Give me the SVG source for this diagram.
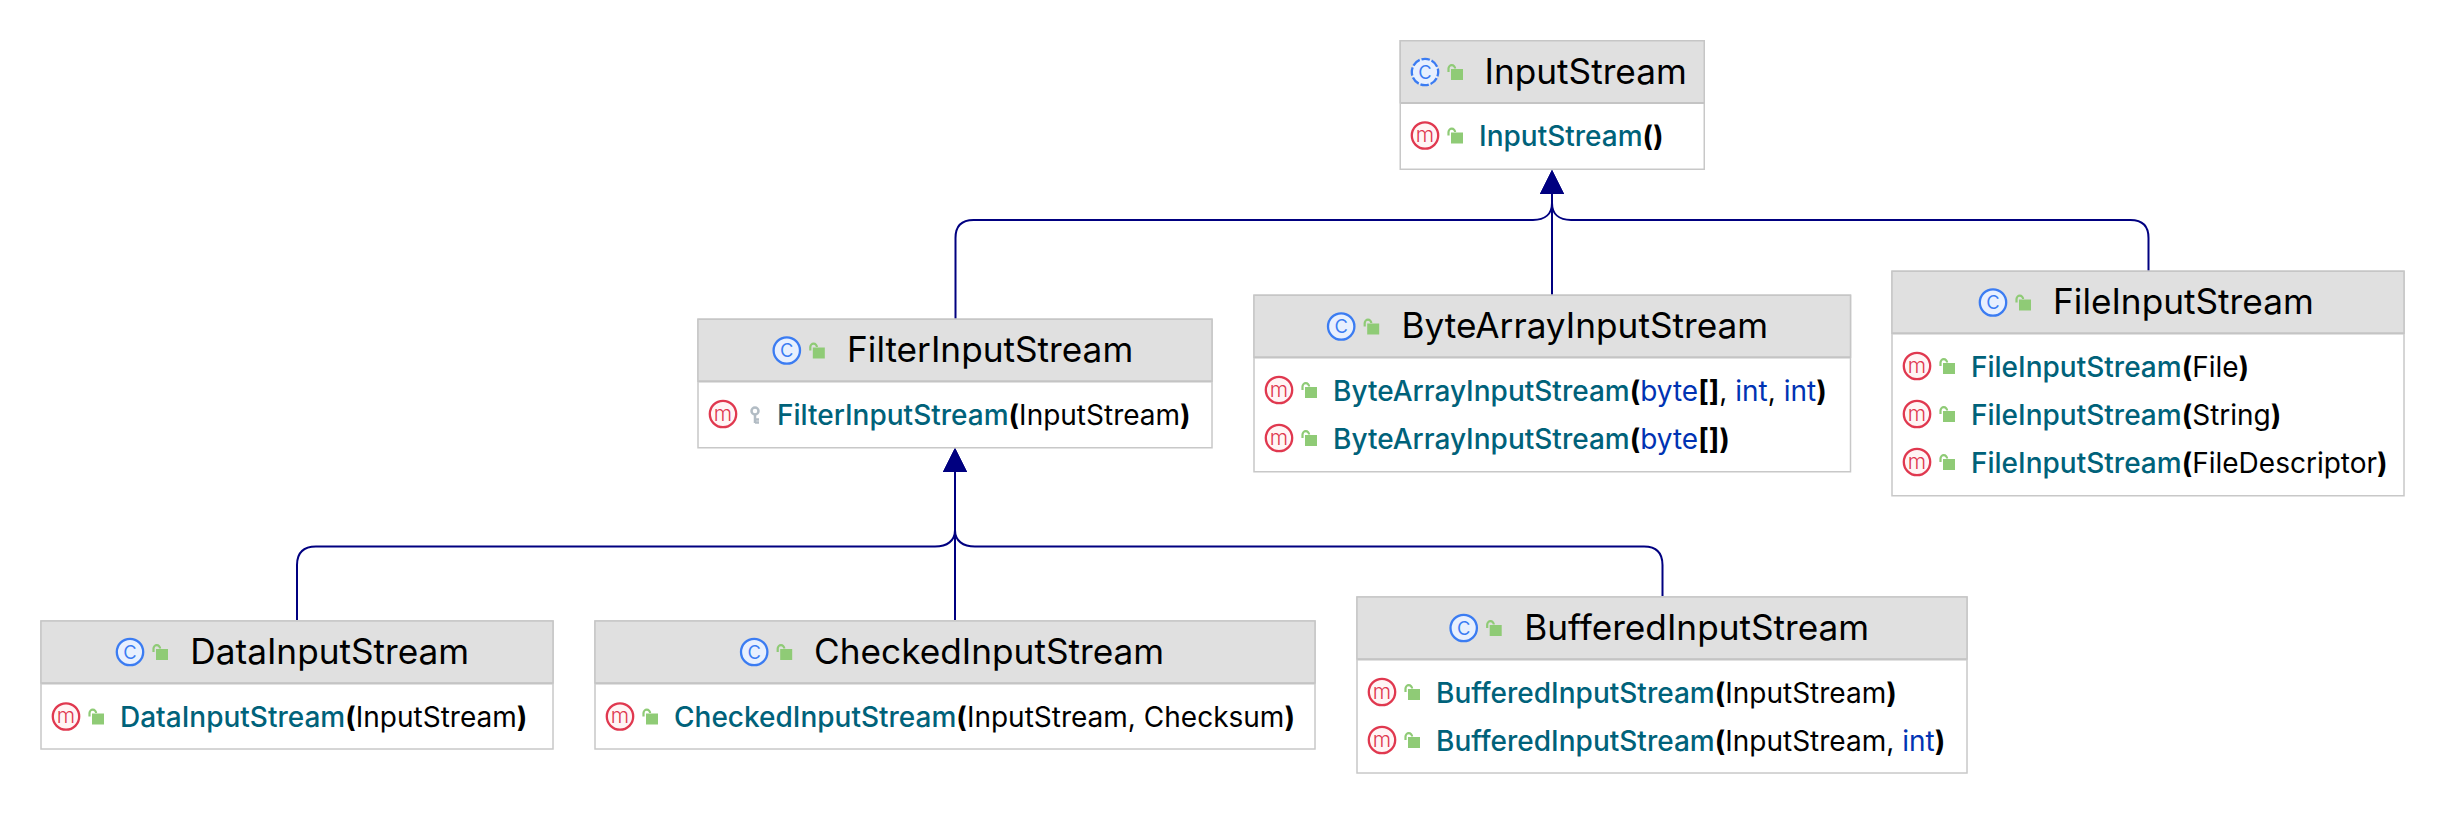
<svg xmlns="http://www.w3.org/2000/svg" width="2446" height="814" viewBox="0 0 2446 814">
<style>
text{font-family:Inter,"Noto Sans","Liberation Sans",sans-serif;white-space:pre}
.box{fill:#fff;stroke:#c8c8c8;stroke-width:1.500}
.head{fill:#e0e0e0;stroke:#c6c6c6;stroke-width:1.500}
.sep{stroke:#c4c4c4;stroke-width:2}
.t{font-size:35.200px;fill:#000}
.r{font-size:28px;font-weight:400;fill:#000}
.n{fill:#00627a;font-weight:450}.k{fill:#0033b3}.b{font-weight:700}
.ln{fill:none;stroke:#000080;stroke-width:2}
.ci{font-size:25px;font-weight:300;fill:#3b7cf2}
.mi{font-size:21px;font-weight:300;fill:#e0384f}
</style>
<defs>
<marker id="tri" markerUnits="userSpaceOnUse" markerWidth="26" markerHeight="26" refX="0" refY="12" orient="auto"><path d="M0 0L24 12L0 24Z" fill="#000080"/></marker>
<g id="lock"><rect x="26" y="-3" width="12" height="11" fill="#8fcb76"/><path d="M23.500 0V-3.500a3.300 3.300 0 0 1 6.600 0" fill="none" stroke="#8fcb76" stroke-width="2.200"/></g>
<g id="key"><circle cx="32" cy="-3" r="3.500" fill="none" stroke="#b2bcc4" stroke-width="2.500"/><path d="M32 0V9M32 5.500h4M32 8.500h4" fill="none" stroke="#b2bcc4" stroke-width="2.500"/></g>
<g id="c"><circle r="13.200" fill="#e8f0fe" stroke="#3b7cf2" stroke-width="2.300"/><text y="6.800" text-anchor="middle" class="ci">c</text></g>
<g id="ca"><circle r="13.200" fill="#e8f0fe" stroke="#3b7cf2" stroke-width="2.300" stroke-dasharray="8.500 1.870" stroke-dashoffset="4"/><text y="6.800" text-anchor="middle" class="ci">c</text></g>
<g id="m"><circle r="13.200" fill="#fff5f5" stroke="#e0384f" stroke-width="2.300"/><text y="6.500" text-anchor="middle" class="mi">m</text></g>
</defs>
<rect width="2446" height="814" fill="#fff"/>
<g id="connectors">
<path class="ln" marker-end="url(#tri)" d="M955.500 319V238Q955.500 220 973.500 220H1533C1545 220 1552 214 1552 203V194"/>
<path class="ln" marker-end="url(#tri)" d="M1552 295V194"/>
<path class="ln" marker-end="url(#tri)" d="M2148.500 271V238Q2148.500 220 2130.500 220H1571C1559 220 1552 214 1552 203V194"/>
<path class="ln" marker-end="url(#tri)" d="M297 620V565Q297 546.500 316 546.500H935C947 546.500 955 541 955 530V472"/>
<path class="ln" marker-end="url(#tri)" d="M955 620V472"/>
<path class="ln" marker-end="url(#tri)" d="M1662.500 596V565Q1662.500 546.500 1644 546.500H975C963 546.500 955 541 955 530V472"/>
</g>
<g id="InputStream">
<rect class="box" x="1400.250" y="40.750" width="304" height="128.500"/><rect class="head" x="1400.250" y="40.750" width="304" height="62"/><path class="sep" d="M1401 103H1704"/>
<use href="#ca" x="1425" y="72"/><use href="#lock" x="1425" y="72"/><text class="t" x="1484.500" y="83.500">InputStream</text>
<use href="#m" x="1425" y="135.500"/><use href="#lock" x="1425" y="135.500"/><text class="r" x="1479" y="146"><tspan class="n">InputStream</tspan><tspan class="b">()</tspan></text>
</g>
<g id="FilterInputStream">
<rect class="box" x="698" y="319.250" width="514" height="128.500"/><rect class="head" x="698" y="319.250" width="514" height="62"/><path class="sep" d="M698.500 381.500H1211.500"/>
<use href="#c" x="786.800" y="350.500"/><use href="#lock" x="786.800" y="350.500"/><text class="t" x="847.100" y="362">FilterInputStream</text>
<use href="#m" x="723" y="414"/><use href="#key" x="723" y="414"/><text class="r" x="777" y="424.500"><tspan class="n">FilterInputStream</tspan><tspan class="b">(</tspan>InputStream<tspan class="b">)</tspan></text>
</g>
<g id="ByteArrayInputStream">
<rect class="box" x="1254" y="295.250" width="596.500" height="176.500"/><rect class="head" x="1254" y="295.250" width="596.500" height="62"/><path class="sep" d="M1254.500 357.500H1850"/>
<use href="#c" x="1341.200" y="326.500"/><use href="#lock" x="1341.200" y="326.500"/><text class="t" x="1401.500" y="338">ByteArrayInputStream</text>
<use href="#m" x="1279" y="390"/><use href="#lock" x="1279" y="390"/><text class="r" x="1333" y="400.500"><tspan class="n">ByteArrayInputStream</tspan><tspan class="b">(</tspan><tspan class="k">byte</tspan><tspan class="b">[]</tspan>, <tspan class="k">int</tspan>, <tspan class="k">int</tspan><tspan class="b">)</tspan></text>
<use href="#m" x="1279" y="438"/><use href="#lock" x="1279" y="438"/><text class="r" x="1333" y="448.500"><tspan class="n">ByteArrayInputStream</tspan><tspan class="b">(</tspan><tspan class="k">byte</tspan><tspan class="b">[])</tspan></text>
</g>
<g id="FileInputStream">
<rect class="box" x="1892" y="271.250" width="512" height="224.500"/><rect class="head" x="1892" y="271.250" width="512" height="62"/><path class="sep" d="M1892.500 333.500H2403.500"/>
<use href="#c" x="1993" y="302.500"/><use href="#lock" x="1993" y="302.500"/><text class="t" x="2053.100" y="314">FileInputStream</text>
<use href="#m" x="1917" y="366"/><use href="#lock" x="1917" y="366"/><text class="r" x="1971" y="376.500"><tspan class="n">FileInputStream</tspan><tspan class="b">(</tspan>File<tspan class="b">)</tspan></text>
<use href="#m" x="1917" y="414"/><use href="#lock" x="1917" y="414"/><text class="r" x="1971" y="424.500"><tspan class="n">FileInputStream</tspan><tspan class="b">(</tspan>String<tspan class="b">)</tspan></text>
<use href="#m" x="1917" y="462"/><use href="#lock" x="1917" y="462"/><text class="r" x="1971" y="472.500"><tspan class="n">FileInputStream</tspan><tspan class="b">(</tspan>FileDescriptor<tspan class="b">)</tspan></text>
</g>
<g id="DataInputStream">
<rect class="box" x="41" y="621" width="512" height="128"/><rect class="head" x="41" y="621" width="512" height="62"/><path class="sep" d="M41.500 683.500H552.500"/>
<use href="#c" x="130" y="652"/><use href="#lock" x="130" y="652"/><text class="t" x="190.300" y="663.500">DataInputStream</text>
<use href="#m" x="66" y="716.500"/><use href="#lock" x="66" y="716.500"/><text class="r" x="120" y="727"><tspan class="n">DataInputStream</tspan><tspan class="b">(</tspan>InputStream<tspan class="b">)</tspan></text>
</g>
<g id="CheckedInputStream">
<rect class="box" x="595" y="621" width="720" height="128"/><rect class="head" x="595" y="621" width="720" height="62"/><path class="sep" d="M595.500 683.500H1314.500"/>
<use href="#c" x="754.200" y="652"/><use href="#lock" x="754.200" y="652"/><text class="t" x="814.100" y="663.500">CheckedInputStream</text>
<use href="#m" x="620" y="716.500"/><use href="#lock" x="620" y="716.500"/><text class="r" x="674" y="727"><tspan class="n">CheckedInputStream</tspan><tspan class="b">(</tspan>InputStream, Checksum<tspan class="b">)</tspan></text>
</g>
<g id="BufferedInputStream">
<rect class="box" x="1357" y="597" width="610" height="176"/><rect class="head" x="1357" y="597" width="610" height="62"/><path class="sep" d="M1357.500 659.500H1966.500"/>
<use href="#c" x="1463.700" y="628"/><use href="#lock" x="1463.700" y="628"/><text class="t" x="1524.200" y="639.500">BufferedInputStream</text>
<use href="#m" x="1382" y="692"/><use href="#lock" x="1382" y="692"/><text class="r" x="1436" y="702.500"><tspan class="n">BufferedInputStream</tspan><tspan class="b">(</tspan>InputStream<tspan class="b">)</tspan></text>
<use href="#m" x="1382" y="740"/><use href="#lock" x="1382" y="740"/><text class="r" x="1436" y="750.500"><tspan class="n">BufferedInputStream</tspan><tspan class="b">(</tspan>InputStream, <tspan class="k">int</tspan><tspan class="b">)</tspan></text>
</g>
</svg>
